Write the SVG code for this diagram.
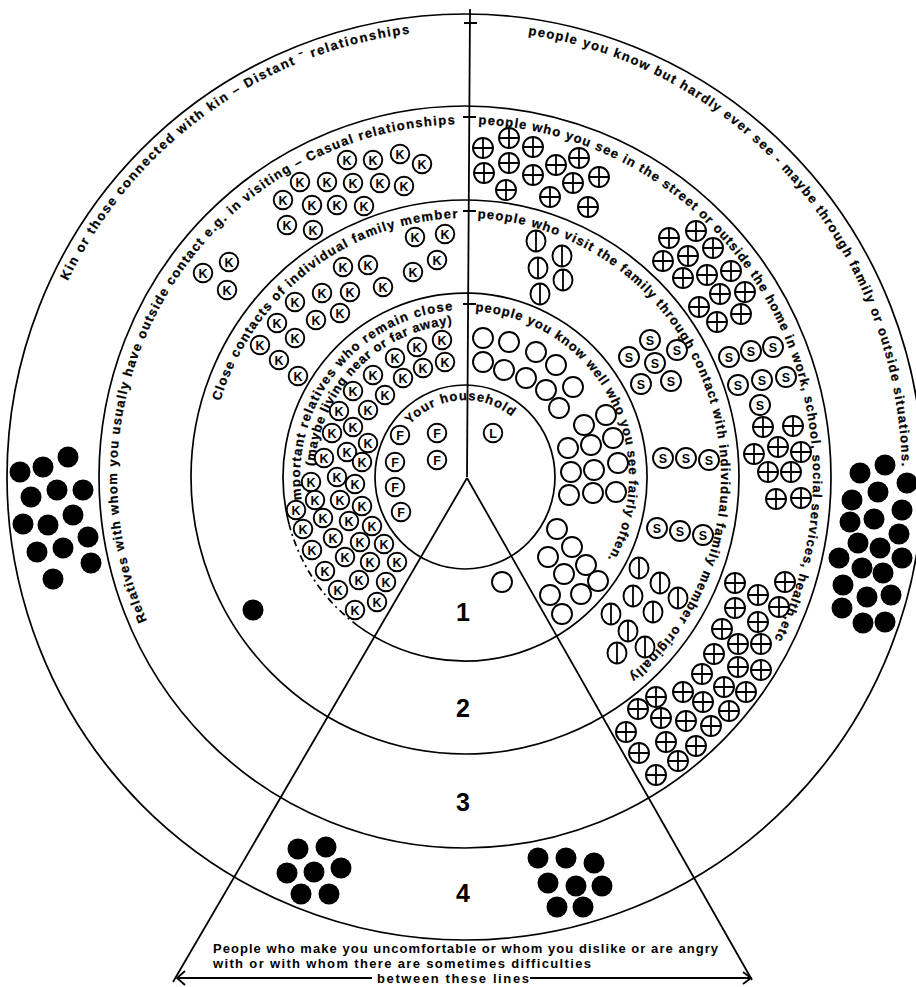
<svg xmlns="http://www.w3.org/2000/svg" xmlns:xlink="http://www.w3.org/1999/xlink" width="916" height="987" viewBox="0 0 916 987">
<style>
.ring{fill:none;stroke:#000;stroke-width:1.7}
.ln{fill:none;stroke:#000;stroke-width:1.8}
.arc{font-family:"Liberation Sans",Arial,sans-serif;font-weight:bold;font-size:13px;fill:#000;stroke:#000;stroke-width:0.25}
.num{font-family:"Liberation Sans",Arial,sans-serif;font-weight:bold;font-size:25px;fill:#000;text-anchor:middle}
.cap{font-family:"Liberation Sans",Arial,sans-serif;font-weight:bold;font-size:13px;fill:#000}
.sym{fill:#fff;stroke:#000;stroke-width:1.9}
.sx{fill:none;stroke:#000;stroke-width:1.8}
.sl{font-family:"Liberation Sans",Arial,sans-serif;font-weight:bold;font-size:12.5px;text-anchor:middle;fill:#000}
</style>
<defs>
<g id="sK"><circle r="9.3" class="sym"/><text class="sl" y="4.5">K</text></g>
<g id="sF"><circle r="9.3" class="sym"/><text class="sl" y="4.5">F</text></g>
<g id="sL"><circle r="9.3" class="sym"/><text class="sl" y="4.5">L</text></g>
<g id="sS"><circle r="10" class="sym"/><text class="sl" y="4.5">S</text></g>
<g id="sP"><circle r="10" class="sym"/><path class="sx" d="M-10 0H10M0-10V10"/></g>
<g id="sV"><ellipse rx="9.5" ry="10.5" class="sym"/><path class="sx" d="M0-10.5V10.5"/></g>
<circle id="sO" r="10" class="sym"/>
<circle id="sB" r="10.5" fill="#000"/>
<path id="t1" d="M67.7,281 A442,447 0 0 1 411.1,33.3"/>
<path id="t2" d="M528.1,34.7 A437,447 0 0 1 902,473.9"/>
<path id="t3" d="M147.1,620.6 A348,353 0 0 1 457.7,124.1"/>
<path id="t4" d="M478.4,124.3 A348,353 0 0 1 772.3,642.7"/>
<path id="t5" d="M220.2,401.3 A256,259 0 0 1 459.2,218.1"/>
<path id="t6" d="M477.5,218.3 A256,259 0 0 1 626.1,678.3"/>
<path id="t7" d="M302.3,504.6 A165,167 0 0 1 456.4,310.2"/>
<path id="t8" d="M314.4,466.3 A151,153 0 0 1 455.8,324.3"/>
<path id="t9" d="M475.3,311.3 A164,166 0 0 1 606.3,561.2"/>
<path id="t10" d="M410.1,424.5 A75,77 0 0 1 512.2,417.2"/>
</defs>
<rect width="916" height="987" fill="#fff"/>

<g id="rings">
<ellipse class="ring" cx="465" cy="477" rx="90" ry="92"/>
<path class="ring" d="M289.2,524.6 A182,184 0 1 1 358,625.9"/>
<path class="ring" stroke-dasharray="7 4 2 4" d="M358,625.9 A182,184 0 0 1 289.2,524.6"/>
<ellipse class="ring" cx="465" cy="477" rx="274" ry="277"/>
<ellipse class="ring" cx="465" cy="477" rx="366" ry="371"/>
<ellipse class="ring" cx="465" cy="477" rx="458" ry="463"/>
</g>

<g id="connectors">
<path class="ln" d="M470,9 L467,477"/>
<path class="ln" d="M464,23H477M463,117H476M463,211H476M463,304H476"/>
<path class="ln" d="M467,478 L173,982 M467,478 L752,980"/>
<path class="ln" stroke-width="1.3" d="M177,978H372M530,978H750M185,971L177,978L185,985M743,972L751,978L743,984"/>
</g>

<g id="ring-texts">
<text class="arc"><textPath href="#t1" textLength="440" lengthAdjust="spacing">Kin or those connected with kin – Distant ˉ relationships</textPath></text>
<text class="arc"><textPath href="#t2" textLength="620" lengthAdjust="spacing">people you know but hardly ever see - maybe through family or outside situations.</textPath></text>
<text class="arc"><textPath href="#t3" textLength="688" lengthAdjust="spacing">Relatives with whom you usually have outside contact e.g. in visiting – Casual relationships</textPath></text>
<text class="arc"><textPath href="#t4" textLength="705" lengthAdjust="spacing">people who you see in the street or outside the home in work, school, social services, health,etc</textPath></text>
<text class="arc"><textPath href="#t5" textLength="320" lengthAdjust="spacing">Close contacts of individual family member</textPath></text>
<text class="arc"><textPath href="#t6" textLength="618" lengthAdjust="spacing">people who visit the family through contact with individual family member originally</textPath></text>
<text class="arc"><textPath href="#t7" textLength="276" lengthAdjust="spacing">Important relatives who remain close</textPath></text>
<text class="arc" font-size="12.5"><textPath href="#t8" textLength="215" lengthAdjust="spacing">(maybe living near or far away)</textPath></text>
<text class="arc"><textPath href="#t9" textLength="334" lengthAdjust="spacing">people you know well who you see fairly often.</textPath></text>
<text class="arc" font-size="12.5"><textPath href="#t10" textLength="112" lengthAdjust="spacing">Your household</textPath></text>
</g>

<g id="numbers">
<text class="num" x="463" y="621">1</text>
<text class="num" x="463" y="717">2</text>
<text class="num" x="463" y="811">3</text>
<text class="num" x="463" y="902">4</text>
</g>

<g id="caption">
<text class="cap" x="213" y="953" textLength="505" lengthAdjust="spacing">People who make you uncomfortable or whom you dislike or are angry</text>
<text class="cap" x="213" y="968" textLength="378" lengthAdjust="spacing">with or with whom there are sometimes difficulties</text>
<text class="cap" x="377" y="983" textLength="152" lengthAdjust="spacing">between these lines</text>
</g>

<g id="kin-casual">
<use href="#sK" x="347" y="160"/><use href="#sK" x="373" y="160"/><use href="#sK" x="400" y="154"/><use href="#sK" x="422" y="164"/>
<use href="#sK" x="300" y="182"/><use href="#sK" x="327" y="182"/><use href="#sK" x="353" y="183"/><use href="#sK" x="380" y="183"/><use href="#sK" x="404" y="186"/>
<use href="#sK" x="283" y="200"/><use href="#sK" x="312" y="205"/><use href="#sK" x="337" y="205"/><use href="#sK" x="364" y="206"/>
<use href="#sK" x="287" y="225"/><use href="#sK" x="313" y="230"/>
<use href="#sK" x="203" y="273"/><use href="#sK" x="229" y="262"/><use href="#sK" x="227" y="290"/>
</g>

<g id="kin-close-contacts">
<use href="#sK" x="415" y="237"/><use href="#sK" x="445" y="234"/><use href="#sK" x="437" y="260"/><use href="#sK" x="413" y="272"/>
<use href="#sK" x="343" y="267"/><use href="#sK" x="368" y="265"/>
<use href="#sK" x="295" y="302"/><use href="#sK" x="322" y="293"/><use href="#sK" x="350" y="292"/><use href="#sK" x="383" y="287"/>
<use href="#sK" x="277" y="323"/><use href="#sK" x="316" y="320"/><use href="#sK" x="340" y="313"/>
<use href="#sK" x="260" y="345"/><use href="#sK" x="295" y="338"/><use href="#sK" x="279" y="360"/><use href="#sK" x="298" y="376"/>
</g>

<g id="kin-important">
<use href="#sK" x="442" y="340"/><use href="#sK" x="417" y="347"/><use href="#sK" x="395" y="358"/><use href="#sK" x="445" y="362"/>
<use href="#sK" x="423" y="368"/><use href="#sK" x="403" y="378"/><use href="#sK" x="373" y="375"/><use href="#sK" x="385" y="395"/>
<use href="#sK" x="353" y="391"/><use href="#sK" x="368" y="410"/><use href="#sK" x="339" y="411"/><use href="#sK" x="353" y="427"/>
<use href="#sK" x="332" y="433"/><use href="#sK" x="368" y="443"/><use href="#sK" x="347" y="452"/><use href="#sK" x="324" y="458"/>
<use href="#sK" x="362" y="462"/><use href="#sK" x="337" y="477"/><use href="#sK" x="311" y="482"/><use href="#sK" x="355" y="484"/>
<use href="#sK" x="315" y="500"/><use href="#sK" x="340" y="500"/><use href="#sK" x="362" y="506"/><use href="#sK" x="296" y="510"/>
<use href="#sK" x="323" y="518"/><use href="#sK" x="349" y="521"/><use href="#sK" x="372" y="526"/><use href="#sK" x="303" y="529"/>
<use href="#sK" x="333" y="538"/><use href="#sK" x="360" y="542"/><use href="#sK" x="384" y="544"/><use href="#sK" x="312" y="550"/>
<use href="#sK" x="345" y="557"/><use href="#sK" x="370" y="562"/><use href="#sK" x="397" y="562"/><use href="#sK" x="325" y="571"/>
<use href="#sK" x="359" y="580"/><use href="#sK" x="386" y="582"/><use href="#sK" x="338" y="590"/><use href="#sK" x="377" y="602"/>
<use href="#sK" x="355" y="610"/>
</g>

<g id="household">
<use href="#sF" x="400" y="435"/><use href="#sF" x="437" y="433"/><use href="#sF" x="395" y="462"/><use href="#sF" x="437" y="460"/>
<use href="#sF" x="395" y="487"/><use href="#sF" x="401" y="512"/>
<use href="#sL" x="493" y="433"/>
</g>

<g id="street-top">
<use href="#sP" x="483" y="148"/><use href="#sP" x="509" y="138"/><use href="#sP" x="533" y="147"/><use href="#sP" x="556" y="165"/>
<use href="#sP" x="579" y="158"/><use href="#sP" x="484" y="173"/><use href="#sP" x="509" y="163"/><use href="#sP" x="533" y="175"/>
<use href="#sP" x="506" y="190"/><use href="#sP" x="550" y="197"/><use href="#sP" x="573" y="183"/><use href="#sP" x="599" y="177"/>
<use href="#sP" x="588" y="207"/>
</g>

<g id="street-right">
<use href="#sP" x="669" y="238"/><use href="#sP" x="696" y="231"/><use href="#sP" x="713" y="248"/><use href="#sP" x="663" y="261"/>
<use href="#sP" x="688" y="256"/><use href="#sP" x="683" y="278"/><use href="#sP" x="707" y="275"/><use href="#sP" x="731" y="271"/>
<use href="#sP" x="720" y="294"/><use href="#sP" x="745" y="292"/><use href="#sP" x="699" y="307"/><use href="#sP" x="741" y="314"/>
<use href="#sP" x="717" y="322"/>
</g>

<g id="street-mid">
<use href="#sP" x="763" y="427"/><use href="#sP" x="793" y="426"/><use href="#sP" x="778" y="447"/><use href="#sP" x="754" y="454"/>
<use href="#sP" x="801" y="452"/><use href="#sP" x="768" y="472"/><use href="#sP" x="791" y="472"/><use href="#sP" x="776" y="499"/>
<use href="#sP" x="801" y="498"/>
</g>

<g id="street-bottom">
<use href="#sP" x="735" y="583"/><use href="#sP" x="785" y="582"/><use href="#sP" x="758" y="595"/><use href="#sP" x="735" y="608"/>
<use href="#sP" x="779" y="607"/><use href="#sP" x="758" y="622"/><use href="#sP" x="722" y="629"/><use href="#sP" x="738" y="644"/>
<use href="#sP" x="761" y="644"/><use href="#sP" x="714" y="654"/><use href="#sP" x="738" y="667"/><use href="#sP" x="761" y="670"/>
<use href="#sP" x="702" y="674"/><use href="#sP" x="683" y="692"/><use href="#sP" x="724" y="687"/><use href="#sP" x="746" y="692"/>
<use href="#sP" x="656" y="697"/><use href="#sP" x="703" y="702"/><use href="#sP" x="729" y="711"/><use href="#sP" x="638" y="709"/>
<use href="#sP" x="661" y="718"/><use href="#sP" x="686" y="721"/><use href="#sP" x="711" y="726"/><use href="#sP" x="626" y="732"/>
<use href="#sP" x="666" y="742"/><use href="#sP" x="696" y="746"/><use href="#sP" x="639" y="753"/><use href="#sP" x="678" y="761"/>
<use href="#sP" x="656" y="775"/>
</g>

<g id="visitors-top">
<use href="#sV" x="536" y="241"/><use href="#sV" x="562" y="256"/><use href="#sV" x="538" y="268"/><use href="#sV" x="563" y="280"/>
<use href="#sV" x="540" y="294"/>
</g>

<g id="visitors-bottom">
<use href="#sV" x="639" y="568"/><use href="#sV" x="660" y="583"/><use href="#sV" x="678" y="598"/><use href="#sV" x="633" y="596"/>
<use href="#sV" x="653" y="612"/><use href="#sV" x="611" y="614"/><use href="#sV" x="628" y="631"/><use href="#sV" x="645" y="647"/>
<use href="#sV" x="617" y="653"/>
</g>

<g id="social-services">
<use href="#sS" x="650" y="340"/><use href="#sS" x="629" y="357"/><use href="#sS" x="655" y="363"/><use href="#sS" x="677" y="350"/>
<use href="#sS" x="641" y="384"/><use href="#sS" x="671" y="381"/>
<use href="#sS" x="663" y="458"/><use href="#sS" x="686" y="458"/><use href="#sS" x="709" y="460"/>
<use href="#sS" x="657" y="528"/><use href="#sS" x="680" y="531"/><use href="#sS" x="703" y="535"/>
<use href="#sS" x="729" y="357"/><use href="#sS" x="751" y="351"/><use href="#sS" x="773" y="347"/><use href="#sS" x="738" y="385"/>
<use href="#sS" x="762" y="380"/><use href="#sS" x="786" y="377"/><use href="#sS" x="760" y="405"/>
</g>

<g id="known-well">
<use href="#sO" x="483" y="338"/><use href="#sO" x="509" y="342"/><use href="#sO" x="536" y="352"/><use href="#sO" x="556" y="365"/>
<use href="#sO" x="573" y="387"/><use href="#sO" x="483" y="362"/><use href="#sO" x="504" y="370"/><use href="#sO" x="526" y="378"/>
<use href="#sO" x="546" y="390"/><use href="#sO" x="559" y="408"/><use href="#sO" x="606" y="415"/><use href="#sO" x="584" y="425"/>
<use href="#sO" x="613" y="438"/><use href="#sO" x="591" y="445"/><use href="#sO" x="568" y="448"/><use href="#sO" x="618" y="463"/>
<use href="#sO" x="594" y="470"/><use href="#sO" x="571" y="472"/><use href="#sO" x="616" y="492"/><use href="#sO" x="593" y="493"/>
<use href="#sO" x="569" y="495"/>
<use href="#sO" x="557" y="529"/><use href="#sO" x="572" y="547"/><use href="#sO" x="548" y="557"/><use href="#sO" x="586" y="565"/>
<use href="#sO" x="564" y="574"/><use href="#sO" x="598" y="581"/><use href="#sO" x="550" y="595"/><use href="#sO" x="581" y="594"/>
<use href="#sO" x="562" y="614"/>
<use href="#sO" x="502" y="582"/>
</g>

<g id="difficult-left">
<use href="#sB" x="68" y="457"/><use href="#sB" x="43" y="467"/><use href="#sB" x="20" y="472"/><use href="#sB" x="57" y="490"/>
<use href="#sB" x="83" y="490"/><use href="#sB" x="31" y="497"/><use href="#sB" x="73" y="515"/><use href="#sB" x="23" y="524"/>
<use href="#sB" x="48" y="525"/><use href="#sB" x="88" y="537"/><use href="#sB" x="63" y="548"/><use href="#sB" x="37" y="552"/>
<use href="#sB" x="91" y="563"/><use href="#sB" x="53" y="579"/>
<use href="#sB" x="253" y="610"/>
</g>

<g id="difficult-right">
<use href="#sB" x="860" y="473"/><use href="#sB" x="885" y="465"/><use href="#sB" x="907" y="483"/><use href="#sB" x="852" y="500"/>
<use href="#sB" x="878" y="492"/><use href="#sB" x="902" y="510"/><use href="#sB" x="850" y="522"/><use href="#sB" x="874" y="519"/>
<use href="#sB" x="899" y="534"/><use href="#sB" x="858" y="543"/><use href="#sB" x="880" y="548"/><use href="#sB" x="839" y="558"/>
<use href="#sB" x="902" y="558"/><use href="#sB" x="862" y="568"/><use href="#sB" x="883" y="573"/><use href="#sB" x="843" y="585"/>
<use href="#sB" x="867" y="597"/><use href="#sB" x="891" y="595"/><use href="#sB" x="842" y="608"/><use href="#sB" x="863" y="623"/>
<use href="#sB" x="885" y="622"/>
</g>

<g id="difficult-bottom">
<use href="#sB" x="298" y="849"/><use href="#sB" x="326" y="847"/><use href="#sB" x="287" y="873"/><use href="#sB" x="314" y="872"/>
<use href="#sB" x="341" y="868"/><use href="#sB" x="301" y="894"/><use href="#sB" x="329" y="894"/>
<use href="#sB" x="538" y="858"/><use href="#sB" x="566" y="858"/><use href="#sB" x="594" y="863"/><use href="#sB" x="548" y="883"/>
<use href="#sB" x="576" y="886"/><use href="#sB" x="602" y="886"/><use href="#sB" x="557" y="907"/><use href="#sB" x="583" y="907"/>
</g>
</svg>
